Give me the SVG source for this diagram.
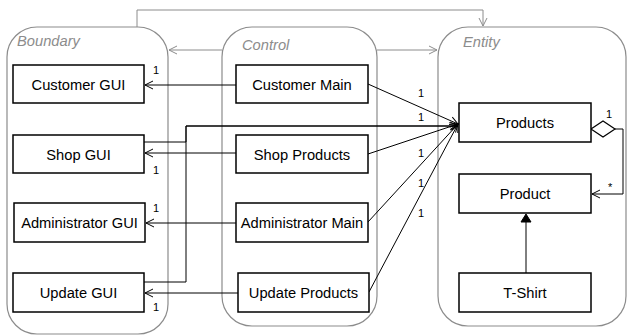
<svg xmlns="http://www.w3.org/2000/svg" width="628" height="336" viewBox="0 0 628 336">
<style>
.cont{fill:none;stroke:#8c8c8c;stroke-width:1.2}
.title{font-family:"Liberation Sans",Arial,sans-serif;font-size:14.7px;font-style:italic;fill:#8c8c8c}
.box{fill:#fff;stroke:#000;stroke-width:1.5}
.lbl{font-family:"Liberation Sans",Arial,sans-serif;font-size:14.7px;fill:#000;text-anchor:middle}
.m{font-family:"Liberation Sans",Arial,sans-serif;font-size:11px;fill:#000}
.c{fill:none;stroke:#000;stroke-width:1}
.g{fill:none;stroke:#8c8c8c;stroke-width:1}
</style>
<defs>
<marker id="oa" markerWidth="10" markerHeight="10" refX="9" refY="5" orient="auto" markerUnits="userSpaceOnUse"><path d="M1,1 L9,5 L1,9" fill="none" stroke="#000" stroke-width="1"/></marker>
<marker id="oag" markerWidth="10" markerHeight="10" refX="9" refY="5" orient="auto" markerUnits="userSpaceOnUse"><path d="M1,1 L9,5 L1,9" fill="none" stroke="#8c8c8c" stroke-width="1"/></marker>
</defs>
<g id="boundary"><rect class="cont" x="7" y="27" width="161" height="307" rx="30"/><text class="title" x="17" y="46">Boundary</text></g>
<g id="control"><rect class="cont" x="222" y="27" width="155" height="299" rx="30"/><text class="title" x="242" y="50">Control</text></g>
<g id="entity"><rect class="cont" x="438" y="27" width="188" height="299" rx="30"/><text class="title" x="463" y="47">Entity</text></g>
<g id="connectors">
<path class="g" d="M137,27 V10 H483 V26" marker-end="url(#oag)"/>
<path class="g" d="M222,50 H169" marker-end="url(#oag)"/>
<path class="g" d="M377,50 H437" marker-end="url(#oag)"/>
<path class="c" d="M236,85 H145" marker-end="url(#oa)"/>
<path class="c" d="M236,153 H145" marker-end="url(#oa)"/>
<path class="c" d="M236,223 H146" marker-end="url(#oa)"/>
<path class="c" d="M238,293 H145" marker-end="url(#oa)"/>
<path class="c" d="M144,142 H186 V126 H458"/>
<path class="c" d="M144,282 H186 V126 H458" marker-end="url(#oa)"/>
<path class="c" d="M368,84 L458,124" marker-end="url(#oa)"/>
<path class="c" d="M368,154 L458,124" marker-end="url(#oa)"/>
<path class="c" d="M368,222 L458,124" marker-end="url(#oa)"/>
<path class="c" d="M369,292 L458,124" marker-end="url(#oa)"/>
<path class="c" d="M615,129 H623 V194 H592" marker-end="url(#oa)"/>
<polygon points="591,129 603,121 615,129 603,137" fill="#fff" stroke="#000" stroke-width="1.2"/>
<path class="c" d="M526,273 V221"/>
<polygon points="526,214 521,222 531,222" fill="#000" stroke="#000" stroke-width="1"/>
<text class="m" x="153" y="74">1</text>
<text class="m" x="153" y="174">1</text>
<text class="m" x="153" y="212">1</text>
<text class="m" x="153" y="311">1</text>
<text class="m" x="418" y="97">1</text>
<text class="m" x="418" y="121">1</text>
<text class="m" x="418" y="157">1</text>
<text class="m" x="418" y="187">1</text>
<text class="m" x="418" y="217">1</text>
<text class="m" x="606" y="118">1</text>
<text class="m" x="608" y="191">*</text>
</g>
<g id="customer-gui"><rect class="box" x="13" y="65" width="131" height="38"/><text class="lbl" x="78.5" y="89.5">Customer GUI</text></g>
<g id="shop-gui"><rect class="box" x="13" y="135" width="131" height="38"/><text class="lbl" x="78.5" y="159.5">Shop GUI</text></g>
<g id="administrator-gui"><rect class="box" x="14" y="203" width="131" height="39"/><text class="lbl" x="79.5" y="228">Administrator GUI</text></g>
<g id="update-gui"><rect class="box" x="13" y="273" width="131" height="39"/><text class="lbl" x="78.5" y="298">Update GUI</text></g>
<g id="customer-main"><rect class="box" x="236" y="65" width="132" height="38"/><text class="lbl" x="302" y="89.5">Customer Main</text></g>
<g id="shop-products"><rect class="box" x="236" y="135" width="132" height="38"/><text class="lbl" x="302" y="159.5">Shop Products</text></g>
<g id="administrator-main"><rect class="box" x="236" y="203" width="132" height="39"/><text class="lbl" x="302" y="228">Administrator Main</text></g>
<g id="update-products"><rect class="box" x="238" y="273" width="131" height="39"/><text class="lbl" x="303.5" y="298">Update Products</text></g>
<g id="products"><rect class="box" x="459" y="103" width="132" height="39"/><text class="lbl" x="525" y="128">Products</text></g>
<g id="product"><rect class="box" x="459" y="174" width="132" height="39"/><text class="lbl" x="525" y="199">Product</text></g>
<g id="t-shirt"><rect class="box" x="459" y="273" width="132" height="39"/><text class="lbl" x="525" y="298">T-Shirt</text></g>
</svg>
